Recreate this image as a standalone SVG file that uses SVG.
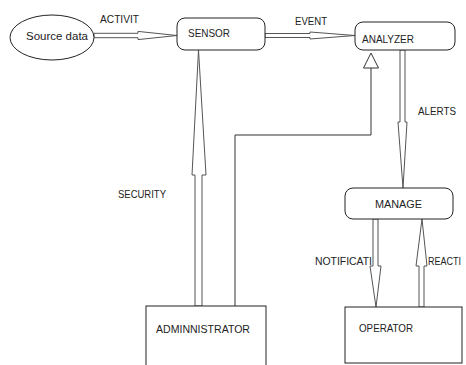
<svg xmlns="http://www.w3.org/2000/svg" width="466" height="365" viewBox="0 0 466 365">
<style>
.n{fill:#fff;stroke:#222;stroke-width:1}
.t{font-family:"Liberation Sans",Arial,sans-serif;font-size:11px;fill:#222}
.a{fill:#fff;stroke:#555;stroke-width:1;stroke-linejoin:miter}
.l{fill:none;stroke:#333;stroke-width:1}
</style>
<rect width="466" height="365" fill="#fff"/>
<g id="connectors">
<polygon class="a" points="94,33.3 138,33.3 138,31.4 177,35.5 138,39.6 138,37.7 94,37.7"/>
<polygon class="a" points="265,33.5 310,33.5 310,32 355,35.5 310,39 310,37.5 265,37.5"/>
<polygon class="a" points="195,306 195,175 192,175 198.5,50 206,175 202,175 202,306"/>
<polygon class="a" points="400,50 400,122 398,122 403,188 407,122 405,122 405,50"/>
<polygon class="a" points="373,219 373,266 370,266 376,307 381,266 378,266 378,219"/>
<polygon class="a" points="419,307 419,266 416,266 422,219 427,266 424,266 424,307"/>
<polyline class="l" points="235,306 235,135 371,135 371,68"/>
<polygon class="a" style="stroke:#333" points="371,53 363.5,68 378.5,68"/>
</g>
<g id="source">
<ellipse class="n" cx="52" cy="37.5" rx="42" ry="22.5"/>
<text class="t" x="26" y="40" textLength="62" lengthAdjust="spacingAndGlyphs">Source data</text>
</g>
<g id="sensor">
<rect class="n" x="177" y="18" width="88" height="32" rx="8"/>
<text class="t" x="188" y="37" textLength="42" lengthAdjust="spacingAndGlyphs">SENSOR</text>
</g>
<g id="analyzer">
<rect class="n" x="355" y="22" width="100" height="28" rx="8"/>
<text class="t" x="362" y="43" textLength="52" lengthAdjust="spacingAndGlyphs">ANALYZER</text>
</g>
<g id="manage">
<rect class="n" x="345" y="188" width="108" height="31" rx="8"/>
<text class="t" x="375" y="208" textLength="47" lengthAdjust="spacingAndGlyphs">MANAGE</text>
</g>
<g id="administrator">
<rect class="n" x="146" y="306" width="120" height="70"/>
<text class="t" x="156" y="333" textLength="94" lengthAdjust="spacingAndGlyphs">ADMINNISTRATOR</text>
</g>
<g id="operator">
<rect class="n" x="345" y="307" width="117" height="56"/>
<text class="t" x="359" y="332" textLength="54" lengthAdjust="spacingAndGlyphs">OPERATOR</text>
</g>
<g id="labels">
<text class="t" x="100" y="23" textLength="39" lengthAdjust="spacingAndGlyphs">ACTIVIT</text>
<text class="t" x="295" y="25" textLength="32" lengthAdjust="spacingAndGlyphs">EVENT</text>
<text class="t" x="418" y="115" textLength="38" lengthAdjust="spacingAndGlyphs">ALERTS</text>
<text class="t" x="118" y="198" textLength="48" lengthAdjust="spacingAndGlyphs">SECURITY</text>
<text class="t" x="315" y="265" textLength="57" lengthAdjust="spacingAndGlyphs">NOTIFICATI</text>
<text class="t" x="428" y="265" style="font-size:10px" textLength="33" lengthAdjust="spacingAndGlyphs">REACTI</text>
</g>
</svg>
